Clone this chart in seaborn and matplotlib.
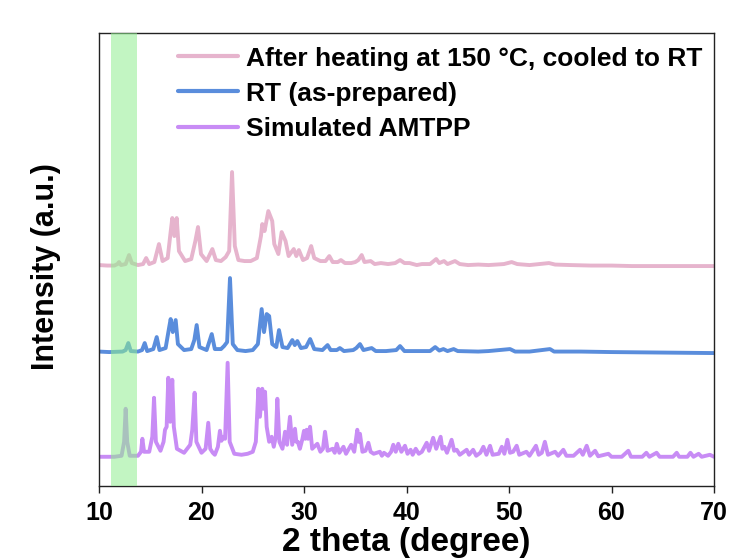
import numpy as np
import pandas as pd
import matplotlib
matplotlib.use("Agg")
import matplotlib.pyplot as plt
import seaborn as sns

# ---- data (2theta, intensity a.u. above each baseline) ----
series_names = ["After heating at 150 °C, cooled to RT", "RT (as-prepared)", "Simulated AMTPP"]
series_colors = ["#e6b4cd", "#5a8ddc", "#c88cf5"]
series_offsets = [220.0, 134.0, 29.3]

heat_x = [10.0, 10.8, 11.5, 11.8, 11.95, 12.15, 12.6, 12.93, 13.2, 13.8, 14.3, 14.6, 14.9, 15.4, 15.85,
          16.2, 16.7, 17.0, 17.15, 17.35, 17.58, 17.8, 18.4, 19.0, 19.4, 19.66, 19.95, 20.5, 21.06, 21.4,
          21.9, 22.36, 22.7, 22.98, 23.25, 23.6, 24.2, 24.8, 25.4, 25.8, 25.93, 26.15, 26.52, 26.9, 27.1,
          27.5, 27.82, 28.2, 28.5, 29.0, 29.25, 29.5, 29.9, 30.3, 30.7, 31.0, 31.6, 32.1, 32.47, 32.8,
          33.3, 33.6, 34.0, 34.6, 35.0, 35.3, 35.63, 35.9, 36.5, 36.9, 37.5, 38.2, 38.9, 39.37, 39.8,
          40.3, 41.0, 41.5, 42.3, 42.9, 43.2, 43.66, 44.0, 44.73, 45.2, 46.0, 47.0, 48.0, 49.5, 50.26,
          50.8, 52.0, 53.9, 54.5, 56.0, 58.0, 60.0, 62.0, 64.0, 66.0, 70.0]
heat_y = [1.0, 0.5, 0.5, 2.0, 4.0, 1.0, 2.0, 11.0, 3.0, 1.0, 2.0, 8.0, 2.0, 4.0, 22.0,
          5.0, 8.0, 35.0, 48.0, 30.0, 48.0, 15.0, 5.0, 7.0, 25.0, 39.0, 12.0, 5.0, 17.0, 6.0,
          5.0, 9.0, 15.0, 94.0, 20.0, 6.0, 5.0, 5.0, 8.0, 30.0, 42.0, 35.0, 55.0, 45.0, 22.0,
          12.0, 34.0, 25.0, 10.0, 17.0, 10.0, 16.0, 6.0, 8.0, 20.0, 8.0, 5.0, 5.0, 10.0, 4.0,
          4.0, 6.0, 3.0, 3.0, 4.0, 6.0, 11.0, 4.0, 5.0, 2.0, 3.0, 2.0, 3.0, 6.0, 3.0,
          3.0, 1.0, 2.0, 2.0, 7.0, 3.0, 5.0, 2.0, 5.0, 2.0, 1.0, 1.5, 1.0, 2.0, 4.0,
          2.0, 1.0, 3.0, 1.5, 1.0, 0.5, 0.5, 0.0, 0.0, 0.0, 0.0]

rt_x = [10.0, 11.0, 12.3, 12.6, 12.86, 13.1, 13.8, 14.2, 14.46, 14.7, 15.3, 15.63, 15.9, 16.5, 16.85,
        16.99, 17.2, 17.48, 17.7, 18.3, 19.0, 19.3, 19.53, 19.8, 20.5, 21.0, 21.3, 21.9, 22.2, 22.5,
        22.78, 23.05, 23.5, 24.3, 25.0, 25.5, 25.87, 26.1, 26.36, 26.6, 26.9, 27.3, 27.56, 27.9, 28.4,
        28.86, 29.1, 29.35, 29.7, 30.2, 30.6, 31.0, 31.8, 32.3, 32.6, 33.2, 33.5, 33.9, 34.8, 35.1,
        35.46, 35.8, 36.6, 37.0, 38.0, 39.0, 39.37, 39.8, 41.0, 42.3, 42.8, 43.2, 43.6, 44.0, 44.6,
        45.0, 47.0, 48.0, 50.1, 50.6, 52.0, 54.0, 54.4, 57.0, 60.0, 65.0, 70.0]
rt_y = [0.5, 0.0, 0.5, 2.0, 9.0, 1.0, 0.5, 2.0, 9.0, 1.0, 3.0, 15.0, 2.0, 4.0, 25.0,
        33.0, 20.0, 32.0, 8.0, 2.0, 3.0, 12.0, 27.0, 5.0, 2.0, 18.0, 3.0, 3.0, 6.0, 10.0,
        74.0, 8.0, 2.0, 1.0, 2.0, 8.0, 43.0, 20.0, 38.0, 36.0, 8.0, 5.0, 22.0, 5.0, 4.0,
        12.0, 7.0, 11.0, 4.0, 5.0, 13.0, 3.0, 2.0, 7.0, 2.0, 2.0, 4.0, 1.0, 2.0, 4.0,
        8.0, 2.0, 4.0, 1.0, 1.0, 2.0, 6.0, 1.0, 1.0, 1.0, 5.0, 1.5, 3.0, 1.0, 3.0,
        1.0, 0.5, 1.0, 3.0, 0.5, 0.5, 3.0, 0.5, 0.5, 0.0, -0.5, -1.0]

sim_x = [10.0, 11.5, 12.2, 12.45, 12.6, 12.75, 13.0, 13.8, 14.1, 14.23, 14.4, 14.9, 15.2, 15.37, 15.55,
         16.0, 16.3, 16.44, 16.6, 16.76, 16.95, 17.15, 17.3, 17.6, 18.3, 18.9, 19.1, 19.33, 19.5, 20.0,
         20.4, 20.66, 20.85, 21.1, 21.3, 21.6, 21.8, 21.95, 22.1, 22.3, 22.55, 22.75, 23.2, 23.9, 24.5,
         25.0, 25.3, 25.55, 25.7, 25.93, 26.05, 26.2, 26.36, 26.6, 26.85, 27.05, 27.25, 27.4, 27.6, 27.9,
         28.15, 28.35, 28.63, 28.85, 29.12, 29.25, 29.4, 29.6, 29.85, 30.0, 30.13, 30.26, 30.4, 30.59, 30.8,
         31.3, 31.6, 31.85, 32.05, 32.3, 32.8, 33.0, 33.2, 33.45, 33.85, 34.1, 34.6, 34.9, 35.2, 35.33,
         35.46, 35.7, 36.0, 36.28, 36.5, 36.8, 37.4, 37.6, 37.8, 38.2, 38.5, 38.71, 38.95, 39.2, 39.5,
         39.85, 40.1, 40.4, 40.6, 40.9, 41.2, 41.5, 41.97, 42.2, 42.6, 42.9, 43.33, 43.5, 43.7, 43.95,
         44.4, 44.65, 44.9, 45.2, 45.87, 46.1, 46.5, 46.8, 47.2, 47.5, 47.8, 48.15, 48.4, 49.0, 49.3,
         49.55, 49.84, 50.1, 50.4, 50.75, 51.0, 51.7, 52.0, 52.63, 52.9, 53.2, 53.5, 53.8, 54.5, 54.8,
         55.3, 55.6, 56.3, 56.93, 57.2, 57.58, 57.9, 58.4, 58.7, 59.7, 60.0, 61.0, 61.64, 61.9, 63.0,
         63.4, 63.7, 64.4, 64.7, 66.0, 66.36, 66.6, 67.4, 67.7, 68.0, 68.5, 68.8, 69.6, 70.0]
sim_y = [0.0, 0.0, 1.0, 15.0, 48.0, 15.0, 1.0, 1.0, 5.0, 18.0, 5.0, 5.0, 20.0, 59.0, 15.0,
         6.0, 15.0, 27.0, 30.0, 79.0, 35.0, 77.0, 30.0, 8.0, 4.0, 12.0, 27.0, 64.0, 15.0, 4.0,
         8.0, 34.0, 8.0, 4.0, 2.0, 10.0, 26.0, 16.0, 20.0, 18.0, 94.0, 15.0, 3.0, 2.0, 3.0,
         5.0, 15.0, 68.0, 40.0, 68.0, 48.0, 65.0, 30.0, 15.0, 20.0, 10.0, 20.0, 58.0, 15.0, 8.0,
         25.0, 12.0, 40.0, 12.0, 28.0, 15.0, 15.0, 8.0, 18.0, 26.0, 18.0, 27.0, 18.0, 30.0, 8.0,
         13.0, 5.0, 8.0, 25.0, 6.0, 8.0, 4.0, 13.0, 4.0, 10.0, 3.0, 12.0, 5.0, 27.0, 15.0,
         23.0, 5.0, 6.0, 14.0, 5.0, 3.0, 5.0, 1.0, 4.0, 1.0, 5.0, 12.0, 5.0, 13.0, 5.0,
         11.0, 3.0, 7.0, 2.0, 8.0, 3.0, 5.0, 14.0, 6.0, 19.0, 8.0, 20.0, 8.0, 10.0, 4.0,
         17.0, 6.0, 7.0, 2.0, 7.0, 2.0, 7.0, 1.0, 4.0, 10.0, 2.0, 11.0, 2.0, 3.0, 10.0,
         3.0, 17.0, 4.0, 5.0, 11.0, 2.0, 5.0, 1.0, 11.0, 2.0, 4.0, 15.0, 2.0, 5.0, 1.0,
         7.0, 1.0, 1.0, 7.0, 2.0, 11.0, 1.0, 6.0, 0.5, 3.0, 0.0, 0.0, 6.0, 0.0, 0.0,
         4.0, 0.0, 4.0, 0.0, 0.0, 4.0, 0.0, 0.0, 4.0, 0.0, 3.0, 0.0, 2.0, 0.0]

x_ticks = [10, 20, 30, 40, 50, 60, 70]
highlight_band = (11.2, 13.7)

# ---- build long-form table ----
frames = []
for name, xs, ys, off in zip(series_names, [heat_x, rt_x, sim_x], [heat_y, rt_y, sim_y], series_offsets):
    frames.append(pd.DataFrame({"two_theta": xs, "intensity": np.asarray(ys) + off, "sample": name}))
df = pd.concat(frames, ignore_index=True)

sns.set_style("white")
plt.rcParams["font.family"] = ["Liberation Sans", "DejaVu Sans"]
plt.rcParams["font.weight"] = "bold"
plt.rcParams["text.color"] = "black"
plt.rcParams["axes.labelcolor"] = "black"
plt.rcParams["xtick.color"] = "black"

fig = plt.figure(figsize=(7.5, 5.6), dpi=100)
ax = fig.add_axes([0.132, 0.132, 0.820, 0.809])

sns.lineplot(data=df, x="two_theta", y="intensity", hue="sample", hue_order=series_names,
             palette=series_colors, estimator=None, sort=False, linewidth=2.8, ax=ax)
for ln in ax.get_lines():
    ln.set_solid_joinstyle("round")

ax.axvspan(highlight_band[0], highlight_band[1], color="#90ee90", alpha=0.55, lw=0, zorder=5)

ax.set_xlim(10, 70)
ax.set_ylim(0, 453)
ax.set_xticks(x_ticks)
ax.set_yticks([])
ax.tick_params(axis="x", direction="out", length=5, width=1, color="#222222",
               labelcolor="black", labelsize=18, pad=6, bottom=True)
for lab in ax.get_xticklabels():
    lab.set_fontweight("bold")
for sp in ax.spines.values():
    sp.set_color("#222222")
    sp.set_linewidth(1.0)

ax.set_xlabel("2 theta (degree)", fontsize=24, fontweight="bold", labelpad=1, color="black")
ax.set_ylabel("Intensity (a.u.)", fontsize=22, fontweight="bold", labelpad=14, color="black")
ax.yaxis.set_label_coords(-0.062, 0.485)

leg = ax.legend(loc="upper left", bbox_to_anchor=(0.102, 1.005), frameon=False,
                prop={"size": 19, "weight": "bold"}, handlelength=2.3, handletextpad=0.3,
                labelspacing=0.42, borderaxespad=0.2)
for line in leg.get_lines():
    line.set_linewidth(3)
for t in leg.get_texts():
    t.set_color("black")

fig.savefig("out.png", dpi=100)
